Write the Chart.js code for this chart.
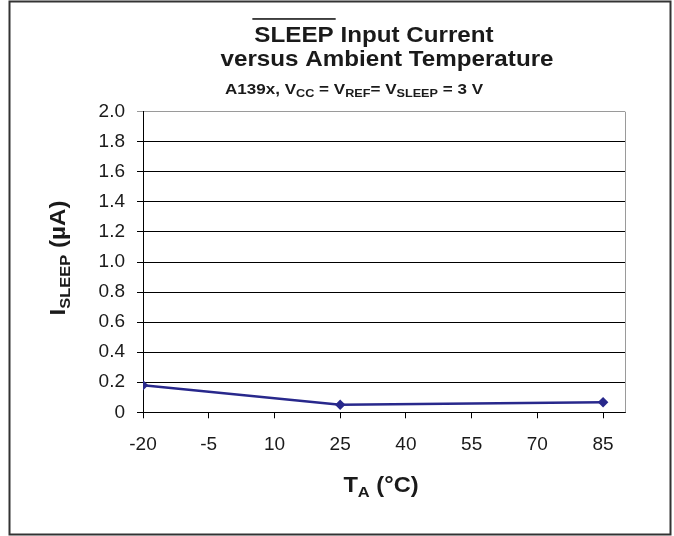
<!DOCTYPE html>
<html>
<head>
<meta charset="utf-8">
<script src="https://cdn.jsdelivr.net/npm/chart.js@4/dist/chart.umd.min.js"></script>
<style>
  html, body { margin: 0; padding: 0; background: #fff; }
  #wrap { width: 674px; height: 536px; }
</style>
</head>
<body>
<div id="wrap"><canvas id="sleepChart" width="674" height="536"></canvas></div>
<script>
// SLEEP input current vs ambient temperature (A139x, VCC = VREF = VSLEEP = 3 V)
const temperatures = [-20, 25, 85];
const sleepCurrent = [0.18, 0.05, 0.067];
const xTicks = [-20, -5, 10, 25, 40, 55, 70, 85];
const yTicks = [0, 0.2, 0.4, 0.6, 0.8, 1.0, 1.2, 1.4, 1.6, 1.8, 2.0];

const FONT = '"Liberation Sans", Arial, sans-serif';
const NAVY = 'rgb(40, 40, 140)';
const STRETCH = 1.1; // reference text is slightly wide

// draws a row of text pieces (subscripts, overline) centred on cx
function drawRuns(ctx, runs, cx, baseY) {
    let total = 0;
    runs.forEach(r => {
        ctx.font = 'bold ' + r.size + 'px ' + FONT;
        r.w = ctx.measureText(r.text).width * STRETCH;
        total += r.w;
    });
    let x = cx - total / 2;
    ctx.textAlign = 'left';
    ctx.textBaseline = 'alphabetic';
    runs.forEach(r => {
        ctx.font = 'bold ' + r.size + 'px ' + FONT;
        ctx.save();
        ctx.translate(x, baseY + (r.dy || 0));
        ctx.scale(STRETCH, 1);
        ctx.fillText(r.text, 0, 0);
        ctx.restore();
        if (r.overline) {
            ctx.fillRect(x - 2, baseY - r.size * 1.07, r.w + 4, 1.6);
        }
        x += r.w;
    });
}

const decorations = {
    id: 'decorations',
    afterDraw(chart) {
        const ctx = chart.ctx;
        const area = chart.chartArea;
        ctx.save();

        // plot area right edge (grey)
        ctx.strokeStyle = '#9a9a9a';
        ctx.lineWidth = 1;
        ctx.beginPath();
        ctx.moveTo(Math.round(area.right) + 0.5, area.top);
        ctx.lineTo(Math.round(area.right) + 0.5, area.bottom);
        ctx.stroke();

        // outer frame
        ctx.strokeStyle = '#333';
        ctx.lineWidth = 2;
        ctx.strokeRect(9.5, 1.5, 661, 533);

        ctx.fillStyle = '#1a1a1a';
        // title
        drawRuns(ctx, [
            { text: 'SLEEP', size: 22, overline: true },
            { text: ' Input Current', size: 22 }
        ], 374, 41.7);
        drawRuns(ctx, [{ text: 'versus Ambient Temperature', size: 22 }], 387, 65.5);
        drawRuns(ctx, [
            { text: 'A139x, V', size: 15.5 },
            { text: 'CC', size: 11.5, dy: 3 },
            { text: ' = V', size: 15.5 },
            { text: 'REF', size: 11.5, dy: 3 },
            { text: '= V', size: 15.5 },
            { text: 'SLEEP', size: 11.5, dy: 3 },
            { text: ' = 3 V', size: 15.5 }
        ], 354, 93.5);

        // x axis title
        drawRuns(ctx, [
            { text: 'T', size: 21.5 },
            { text: 'A', size: 15, dy: 5 },
            { text: ' (°C)', size: 21.5 }
        ], 381, 491.7);

        // y axis title
        ctx.translate(65, 258);
        ctx.rotate(-Math.PI / 2);
        drawRuns(ctx, [
            { text: 'I', size: 22 },
            { text: 'SLEEP', size: 15, dy: 5 },
            { text: ' (µA)', size: 22 }
        ], 0, 0);
        ctx.restore();
    }
};

new Chart(document.getElementById('sleepChart').getContext('2d'), {
    type: 'scatter',
    data: {
        datasets: [{
            label: 'ISLEEP',
            data: temperatures.map((t, i) => ({ x: t, y: sleepCurrent[i] })),
            showLine: true,
            borderColor: NAVY,
            backgroundColor: NAVY,
            borderWidth: 2.5,
            pointStyle: 'rectRot',
            pointRadius: 3.5,
            pointHoverRadius: 3.5
        }]
    },
    options: {
        responsive: false,
        animation: false,
        layout: { padding: { left: 0, top: 111.7, right: 49, bottom: 0 } },
        plugins: {
            legend: { display: false },
            title: { display: false },
            tooltip: { enabled: false }
        },
        scales: {
            x: {
                type: 'linear',
                min: -20,
                max: 90,
                afterBuildTicks: s => { s.ticks = xTicks.map(v => ({ value: v })); },
                afterFit: s => { s.height = 123.7; },
                border: { display: true, color: '#000', width: 1 },
                grid: { drawOnChartArea: false, drawTicks: true, tickLength: 6, color: '#000' },
                ticks: {
                    color: '#1a1a1a',
                    padding: 15,
                    maxRotation: 0,
                    autoSkip: false,
                    font: { family: FONT, size: 19 }
                }
            },
            y: {
                min: 0,
                max: 2,
                afterBuildTicks: s => { s.ticks = yTicks.map(v => ({ value: v })); },
                afterFit: s => { s.width = 143; },
                border: { display: true, color: '#000', width: 1 },
                grid: {
                    color: c => (c.tick && c.tick.value === 2 ? '#9a9a9a' : '#000'),
                    lineWidth: 1,
                    drawTicks: true,
                    tickLength: 6
                },
                ticks: {
                    color: '#1a1a1a',
                    padding: 12,
                    autoSkip: false,
                    font: { family: FONT, size: 19 },
                    callback: v => (v === 0 ? '0' : v.toFixed(1))
                }
            }
        }
    },
    plugins: [decorations]
});
</script>
</body>
</html>
